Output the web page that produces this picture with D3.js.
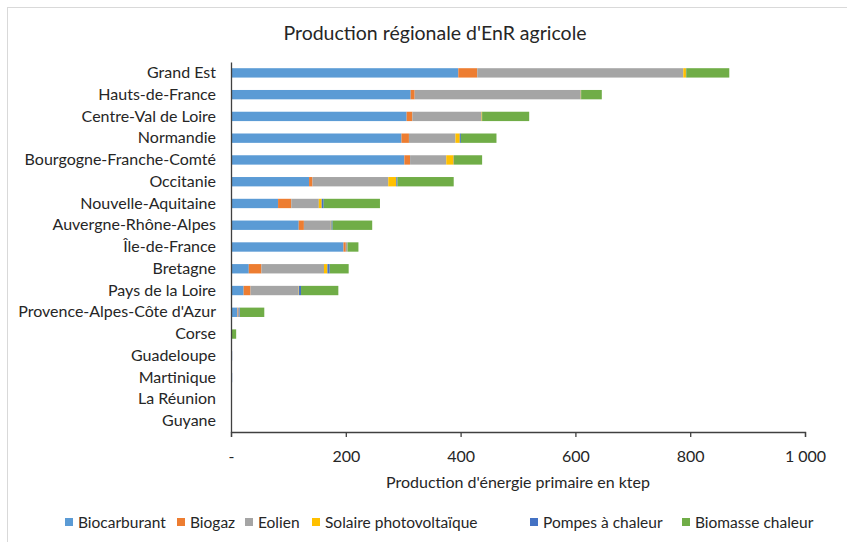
<!DOCTYPE html>
<html>
<head>
<meta charset="utf-8">
<script src="https://cdnjs.cloudflare.com/ajax/libs/d3/7.8.5/d3.min.js"></script>
<style>
  html, body { margin: 0; padding: 0; background: #fff; }
  svg text { font-family: Lato, "Open Sans", sans-serif; fill: #262626; }
</style>
</head>
<body>
<div id="chart"></div>
<script>
// Regional agricultural renewable energy production (ktep), stacked horizontal bars.

const regions = [
  "Grand Est", "Hauts-de-France", "Centre-Val de Loire", "Normandie",
  "Bourgogne-Franche-Comté", "Occitanie", "Nouvelle-Aquitaine", "Auvergne-Rhône-Alpes",
  "Île-de-France", "Bretagne", "Pays de la Loire", "Provence-Alpes-Côte d'Azur",
  "Corse", "Guadeloupe", "Martinique", "La Réunion", "Guyane"
];

const seriesNames = ["Biocarburant", "Biogaz", "Eolien", "Solaire photovoltaïque", "Pompes à chaleur", "Biomasse chaleur"];
const seriesColors = ["#5B9BD5", "#ED7D31", "#A5A5A5", "#FFC000", "#4472C4", "#70AD47"];

const biocarburant = [396, 313, 306, 297, 302, 136, 82, 118, 196, 31, 22, 10.5, 0, 0, 0, 0, 0];
const biogaz       = [33, 7, 10, 13, 10, 6, 23, 9, 4, 22, 12, 1, 0, 0, 0, 0, 0];
const eolien       = [359, 289, 120, 81, 63, 132, 48, 47, 3, 109, 84, 3, 0, 0, 0, 0, 0];
const solaire      = [4.6, 0.5, 1, 7.5, 13, 14, 5, 1, 0, 6, 0.5, 0, 0, 0, 0, 0, 0];
const pompes       = [0.5, 0.5, 0.5, 2, 0.5, 2, 3.5, 2, 0, 4, 3.5, 1, 0, 2, 2, 0, 0];
const biomasse     = [75, 36, 82, 62, 49, 98, 98, 69, 19, 33, 65, 42.5, 9, 0, 0, 0, 0];

const xTicks = [0, 200, 400, 600, 800, 1000];

(function renderChart() {
  const width = 847;
  const height = 542;
  const margin = { top: 62, right: 42, bottom: 110, left: 231 };

  const svg = d3.select("#chart").append("svg")
    .attr("width", width)
    .attr("height", height);

  // Light outer chart-area frame (extends past right and bottom edges)
  svg.append("rect")
    .attr("x", 7.5).attr("y", 7.5)
    .attr("width", width).attr("height", height)
    .attr("fill", "none")
    .attr("stroke", "#d9d9d9");

  const table = regions.map(function (name, i) {
    return {
      region: name,
      "Biocarburant": biocarburant[i],
      "Biogaz": biogaz[i],
      "Eolien": eolien[i],
      "Solaire photovoltaïque": solaire[i],
      "Pompes à chaleur": pompes[i],
      "Biomasse chaleur": biomasse[i]
    };
  });

  const stacked = d3.stack().keys(seriesNames)(table);

  const xScale = d3.scaleLinear()
    .domain([0, 1000])
    .range([margin.left, width - margin.right]);

  const yScale = d3.scaleBand()
    .domain(regions)
    .range([margin.top, height - margin.bottom])
    .paddingInner(0.57)
    .paddingOuter(0.285);

  const color = d3.scaleOrdinal().domain(seriesNames).range(seriesColors);

  // Title
  svg.append("text")
    .attr("x", 435)
    .attr("y", 40)
    .attr("text-anchor", "middle")
    .style("font-size", "19.5px")
    .text("Production régionale d'EnR agricole");

  // Bars
  svg.append("g")
    .selectAll("g")
    .data(stacked)
    .enter()
    .append("g")
    .attr("fill", function (s) { return color(s.key); })
    .selectAll("rect")
    .data(function (s) { return s; })
    .enter()
    .append("rect")
    .attr("x", function (d) { return xScale(d[0]); })
    .attr("y", function (d) { return yScale(d.data.region); })
    .attr("width", function (d) { return Math.max(0, xScale(d[1]) - xScale(d[0])); })
    .attr("height", yScale.bandwidth());

  // X axis
  const xAxis = svg.append("g")
    .attr("transform", "translate(0," + (height - margin.bottom) + ")")
    .call(d3.axisBottom(xScale)
      .tickValues(xTicks)
      .tickSize(5)
      .tickPadding(14)
      .tickFormat(function (v) { return v === 0 ? "-" : d3.format(",")(v).replace(",", " "); }));
  xAxis.select(".domain").attr("stroke", "#404040").attr("stroke-width", 1.3);
  xAxis.selectAll(".tick line").attr("stroke", "#404040").attr("stroke-width", 1.3);
  xAxis.selectAll("text").style("font-size", "16px").attr("fill", "#262626").style("font-family", "Lato, sans-serif");

  // Y axis
  const yAxis = svg.append("g")
    .attr("transform", "translate(" + margin.left + ",0)")
    .call(d3.axisLeft(yScale).tickSize(0).tickPadding(15));
  yAxis.select(".domain").attr("stroke", "#404040").attr("stroke-width", 1.3);
  yAxis.selectAll("text").style("font-size", "16px").attr("fill", "#262626").style("font-family", "Lato, sans-serif");

  // X axis title
  svg.append("text")
    .attr("x", 518)
    .attr("y", 488)
    .attr("text-anchor", "middle")
    .style("font-size", "16px")
    .text("Production d'énergie primaire en ktep");

  // Legend
  const legendX = [65, 177, 245, 312, 530, 682];
  const legend = svg.append("g")
    .selectAll("g")
    .data(seriesNames)
    .enter()
    .append("g")
    .attr("transform", function (d, i) { return "translate(" + legendX[i] + ",523)"; });

  legend.append("rect")
    .attr("x", 0).attr("y", -5)
    .attr("width", 8).attr("height", 8)
    .attr("fill", function (d) { return color(d); });

  legend.append("text")
    .attr("x", 13)
    .attr("y", 5)
    .style("font-size", "15.5px")
    .text(function (d) { return d; });
})();
</script>
</body>
</html>
